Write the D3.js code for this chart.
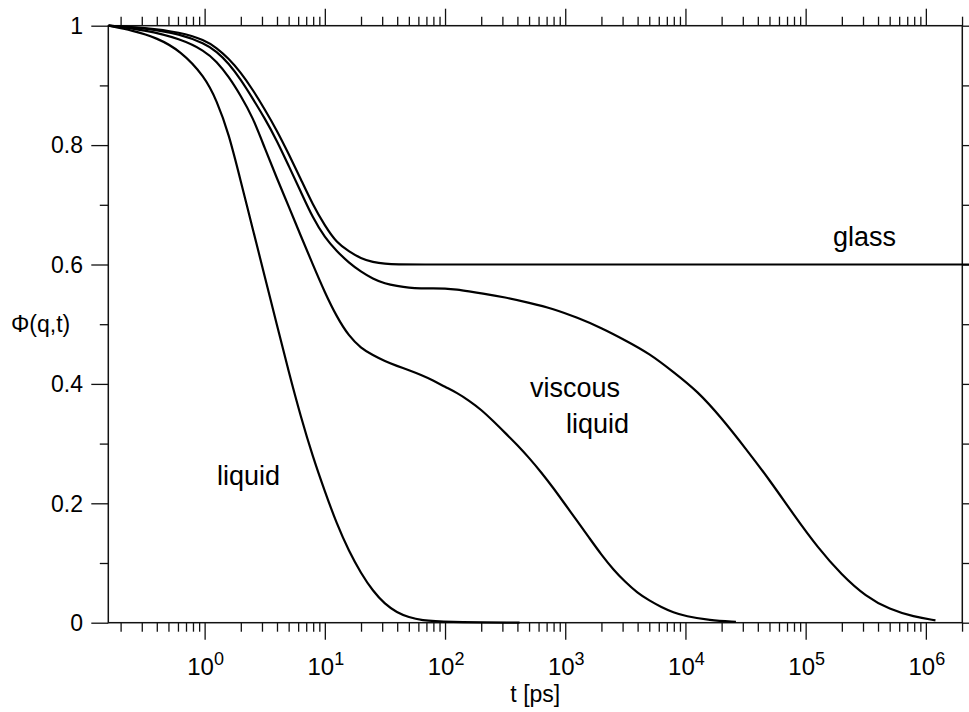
<!DOCTYPE html>
<html lang="en">
<head>
<meta charset="UTF-8"/>
<title>Phi(q,t) relaxation curves</title>
<script src="https://d3js.org/d3.v7.min.js"></script>
<style>
  body { margin: 0; background: #fff; }
  svg text { font-family: "Liberation Sans", Arial, sans-serif; fill: #000; }
</style>
</head>
<body>
<script>
var w = 969;
var h = 712;
var margin = {left: 108.3, right: 6.7, top: 25.7, bottom: 89.3};

// x values are log10(t / ps)
var liquidLogT = [-0.80, -0.60, -0.40, -0.20, 0.00, 0.10, 0.20, 0.30, 0.40, 0.50, 0.60, 0.70, 0.80, 0.90, 1.00, 1.10, 1.20, 1.30, 1.40, 1.50, 1.60, 1.70, 1.80, 2.00, 2.62];
var liquidPhi  = [1.000, 0.992, 0.980, 0.958, 0.915, 0.875, 0.820, 0.740, 0.660, 0.580, 0.500, 0.420, 0.345, 0.278, 0.220, 0.165, 0.120, 0.083, 0.053, 0.031, 0.017, 0.009, 0.004, 0.001, 0.000];

var fastLogT = [-0.80, -0.50, -0.20, 0.00, 0.10, 0.20, 0.30, 0.40, 0.50, 0.60, 0.70, 0.80, 0.90, 1.00, 1.10, 1.20, 1.30, 1.40, 1.50, 1.60, 1.70, 1.80, 1.90, 2.00, 2.10, 2.20, 2.30, 2.40, 2.50, 2.60, 2.70, 2.80, 2.90, 3.00, 3.10, 3.20, 3.30, 3.40, 3.50, 3.60, 3.70, 3.80, 3.90, 4.00, 4.20, 4.42];
var fastPhi  = [1.000, 0.993, 0.978, 0.958, 0.940, 0.915, 0.883, 0.847, 0.795, 0.745, 0.697, 0.648, 0.600, 0.553, 0.512, 0.480, 0.460, 0.448, 0.438, 0.430, 0.423, 0.415, 0.406, 0.395, 0.385, 0.372, 0.357, 0.338, 0.318, 0.298, 0.276, 0.252, 0.226, 0.198, 0.170, 0.142, 0.114, 0.089, 0.068, 0.050, 0.037, 0.026, 0.017, 0.011, 0.004, 0.0015];

var slowLogT = [-0.80, -0.50, -0.20, 0.00, 0.10, 0.20, 0.30, 0.40, 0.50, 0.60, 0.70, 0.80, 0.90, 1.00, 1.10, 1.20, 1.30, 1.40, 1.50, 1.60, 1.70, 1.80, 1.90, 2.00, 2.10, 2.20, 2.30, 2.50, 2.70, 2.90, 3.10, 3.30, 3.50, 3.70, 3.90, 4.10, 4.30, 4.50, 4.70, 4.90, 5.10, 5.30, 5.50, 5.70, 5.90, 6.08];
var slowPhi  = [1.000, 0.996, 0.986, 0.970, 0.957, 0.937, 0.910, 0.878, 0.845, 0.808, 0.765, 0.722, 0.678, 0.645, 0.622, 0.603, 0.588, 0.576, 0.568, 0.564, 0.561, 0.560, 0.560, 0.560, 0.558, 0.555, 0.552, 0.545, 0.536, 0.526, 0.511, 0.494, 0.473, 0.451, 0.420, 0.388, 0.343, 0.292, 0.239, 0.181, 0.126, 0.080, 0.044, 0.022, 0.010, 0.004];

var glassLogT = [-0.80, -0.50, -0.20, 0.00, 0.10, 0.20, 0.30, 0.40, 0.50, 0.60, 0.70, 0.80, 0.90, 1.00, 1.10, 1.20, 1.30, 1.40, 1.50, 1.60, 1.80, 2.20, 3.00, 4.00, 5.00, 6.00, 6.40];
var glassPhi  = [1.000, 0.997, 0.989, 0.976, 0.963, 0.945, 0.922, 0.893, 0.860, 0.825, 0.785, 0.743, 0.700, 0.665, 0.636, 0.622, 0.610, 0.604, 0.601, 0.600, 0.600, 0.600, 0.600, 0.600, 0.600, 0.600, 0.600];

var decades = [0, 1, 2, 3, 4, 5, 6];
var yMajor = [0, 0.2, 0.4, 0.6, 0.8, 1];
var yMinor = [0.1, 0.3, 0.5, 0.7, 0.9];
var yLabels = ["0", "0.2", "0.4", "0.6", "0.8", "1"];

var tMin = 0.158, tMax = 2.01e6;

var svg = d3.select("body").append("svg")
    .attr("width", w)
    .attr("height", h);

var xScale = d3.scaleLog()
    .domain([tMin, tMax])
    .range([margin.left, w - margin.right]);

var yScale = d3.scaleLinear()
    .domain([0, 1])
    .range([h - margin.bottom, margin.top]);

// minor ticks 2..9 in every decade that falls in the domain
var xMinor = [];
for (var e = -1; e <= 6; e++) {
    for (var m = 2; m <= 9; m++) {
        var v = m * Math.pow(10, e);
        if (v > tMin && v < tMax) xMinor.push(v);
    }
}
var xMajor = decades.map(function(d) { return Math.pow(10, d); });

var plotBottom = h - margin.bottom, plotTop = margin.top;
var plotLeft = margin.left, plotRight = w - margin.right;

function addAxis(axis, tf) {
    var g = svg.append("g")
        .attr("transform", tf)
        .call(axis);
    g.select(".domain").remove();
    g.selectAll("line").attr("stroke", "#111").attr("stroke-width", 1.3);
    g.selectAll("text").remove();
    return g;
}

// bottom and top
addAxis(d3.axisBottom(xScale).tickValues(xMinor).tickSize(9), "translate(0," + plotBottom + ")");
addAxis(d3.axisBottom(xScale).tickValues(xMajor).tickSize(17), "translate(0," + plotBottom + ")");
addAxis(d3.axisTop(xScale).tickValues(xMinor).tickSize(9), "translate(0," + plotTop + ")");
addAxis(d3.axisTop(xScale).tickValues(xMajor).tickSize(17), "translate(0," + plotTop + ")");
// left and right
addAxis(d3.axisLeft(yScale).tickValues(yMinor).tickSize(8.5), "translate(" + plotLeft + ",0)");
addAxis(d3.axisLeft(yScale).tickValues(yMajor).tickSize(17), "translate(" + plotLeft + ",0)");
addAxis(d3.axisRight(yScale).tickValues(yMinor).tickSize(8.5), "translate(" + plotRight + ",0)");
addAxis(d3.axisRight(yScale).tickValues(yMajor).tickSize(17), "translate(" + plotRight + ",0)");

// frame
svg.append("rect")
    .attr("x", plotLeft).attr("y", plotTop)
    .attr("width", plotRight - plotLeft).attr("height", plotBottom - plotTop)
    .attr("fill", "none").attr("stroke", "#111").attr("stroke-width", 1.5);

// tick labels
svg.selectAll(".xlab")
    .data(decades)
    .enter()
    .append("text")
    .attr("class", "xlab")
    .attr("x", function(d) { return xScale(Math.pow(10, d)) + 1; })
    .attr("y", 675)
    .attr("text-anchor", "middle")
    .style("font-size", "24px")
    .each(function(d) {
        var t = d3.select(this);
        t.append("tspan").text("10");
        t.append("tspan").attr("dy", -10).style("font-size", "18px").text(d);
    });

svg.selectAll(".ylab")
    .data(yMajor)
    .enter()
    .append("text")
    .attr("class", "ylab")
    .attr("x", 83)
    .attr("y", function(d) { return yScale(d); })
    .attr("dy", "0.36em")
    .attr("text-anchor", "end")
    .style("font-size", "23px")
    .text(function(d, i) { return yLabels[i]; });

svg.append("text")
    .attr("x", 11)
    .attr("y", yScale(0.5))
    .attr("dy", "0.36em")
    .style("font-size", "23px")
    .text("\u03A6(q,t)");

svg.append("text")
    .attr("x", (plotLeft + plotRight) / 2)
    .attr("y", 702)
    .attr("text-anchor", "middle")
    .style("font-size", "23px")
    .text("t [ps]");

// curves
var line = d3.line()
    .x(function(d) { return xScale(Math.pow(10, d[0])); })
    .y(function(d) { return yScale(d[1]); })
    .curve(d3.curveBasis);

var series = [
    [liquidLogT, liquidPhi],
    [fastLogT, fastPhi],
    [slowLogT, slowPhi],
    [glassLogT, glassPhi]
];

svg.append("clipPath").attr("id", "clip")
    .append("rect").attr("x", plotLeft).attr("y", 0).attr("width", w - plotLeft).attr("height", h);

svg.append("g")
    .attr("clip-path", "url(#clip)")
    .selectAll("path")
    .data(series)
    .enter()
    .append("path")
    .attr("d", function(s) { return line(d3.zip(s[0], s[1])); })
    .attr("fill", "none")
    .attr("stroke", "#000")
    .attr("stroke-width", 2.2);

// annotations
var notes = [
    {text: "glass", x: 833, y: 246},
    {text: "viscous", x: 530, y: 397},
    {text: "liquid", x: 566, y: 433},
    {text: "liquid", x: 217, y: 485}
];
svg.selectAll(".note")
    .data(notes)
    .enter()
    .append("text")
    .attr("class", "note")
    .attr("x", function(d) { return d.x; })
    .attr("y", function(d) { return d.y; })
    .style("font-size", "27px")
    .text(function(d) { return d.text; });
</script>
</body>
</html>
